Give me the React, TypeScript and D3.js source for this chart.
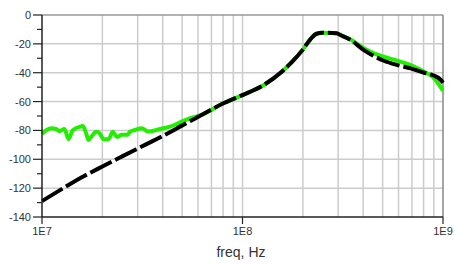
import { useMemo } from "react";
import * as d3 from "d3";

// measured response (black, dashed): frequency in Hz, level in dB
const simFreq = [1.0e7, 1.26e7, 1.58e7, 2.0e7, 2.51e7, 3.16e7, 3.98e7, 5.01e7, 6.31e7, 7.94e7, 1.0e8, 1.26e8, 1.58e8, 1.78e8, 2.0e8, 2.19e8, 2.34e8, 2.51e8, 2.95e8, 3.08e8, 3.46e8, 4.03e8, 4.52e8, 5.07e8, 5.92e8, 6.9e8, 8.04e8, 8.85e8, 9.75e8, 1.0e9];
const simDb = [-129, -120.5, -112.5, -105, -98, -91, -84, -76.5, -69, -61.5, -55.5, -49, -39, -32, -24, -16.5, -13, -12.3, -12.7, -13.9, -17.3, -24.3, -28.4, -31.7, -34.7, -37, -40, -41.6, -45, -47];

// measurement (green): noisy floor at low frequency
const measFreq = [1.0e7, 1.047e7, 1.109e7, 1.175e7, 1.222e7, 1.294e7, 1.355e7, 1.422e7, 1.538e7, 1.598e7, 1.66e7, 1.706e7, 1.77e7, 1.862e7, 1.936e7, 2.032e7, 2.148e7, 2.254e7, 2.371e7, 2.5e7, 2.679e7, 2.745e7, 2.907e7, 3.141e7, 3.388e7, 3.733e7, 4.027e7, 4.351e7, 4.882e7, 5.37e7, 6.31e7, 7.94e7, 1.0e8, 1.26e8, 1.58e8, 1.78e8, 2.0e8, 2.19e8, 2.34e8, 2.51e8, 2.95e8, 3.08e8, 3.46e8, 4.03e8, 4.52e8, 5.07e8, 5.92e8, 6.9e8, 8.04e8, 8.85e8, 9.44e8, 1.0e9];
const measDb = [-82.5, -80, -78.5, -79, -80.5, -79, -86, -80, -77.5, -77, -82, -86.6, -84, -81, -82, -86.2, -86, -81, -84.5, -83, -83, -80.8, -79.7, -78.5, -80.8, -79.7, -78.5, -77.4, -74.4, -72, -69, -61.5, -55.5, -49, -39, -32, -24, -16.5, -13, -12.3, -12.7, -13.9, -17, -23.1, -26.6, -28.9, -31.7, -34.7, -39.3, -42.7, -47.3, -52.5];

const yTicks = [0, -20, -40, -60, -80, -100, -120, -140];
const yMinorTicks = [-10, -30, -50, -70, -90, -110, -130];
const xTicks = [1e7, 1e8, 1e9];
const xTickLabels = ["1E7", "1E8", "1E9"];
const xGrid = [2e7, 3e7, 4e7, 5e7, 6e7, 7e7, 8e7, 9e7, 1e8, 2e8, 3e8, 4e8, 5e8, 6e8, 7e8, 8e8, 9e8];

const W = 454;
const H = 264;
const left = 42;
const right = 443;
const top = 15;
const bottom = 217;
const font = "'Liberation Sans', Arial, sans-serif";

export default function App() {
  const x = useMemo(() => d3.scaleLog().domain([1e7, 1e9]).range([left, right]), []);
  const y = useMemo(() => d3.scaleLinear().domain([-140, 0]).range([bottom, top]), []);

  const line = d3
    .line<[number, number]>()
    .x((d) => x(d[0]))
    .y((d) => y(d[1]))
    .curve(d3.curveMonotoneX);

  const simPath = line(simFreq.map((f, i) => [f, simDb[i]]) as [number, number][]) || "";
  const measPath = line(measFreq.map((f, i) => [f, measDb[i]]) as [number, number][]) || "";

  return (
    <svg width={W} height={H} style={{ position: "absolute", left: 0, top: 0, background: "#fff" }}>
      {/* grid */}
      {yTicks.slice(1, -1).map((t) => (
        <line key={"hy" + t} x1={left} x2={right} y1={y(t)} y2={y(t)} stroke="#cccccc" strokeWidth={1.5} />
      ))}
      {xGrid.map((f) => (
        <line key={"vx" + f} x1={x(f)} x2={x(f)} y1={top} y2={bottom} stroke="#cccccc" strokeWidth={1.5} />
      ))}
      {/* frame */}
      <line x1={left} x2={right} y1={top} y2={top} stroke="#999" strokeWidth={1.5} />
      <line x1={right} x2={right} y1={top} y2={bottom} stroke="#888" strokeWidth={1.5} />

      {/* traces */}
      <path d={measPath} fill="none" stroke="#22ee00" strokeWidth={4} strokeLinejoin="round" />
      <path d={simPath} fill="none" stroke="#000" strokeWidth={4} strokeDasharray="24 4" />

      {/* axes */}
      <line x1={left} x2={left} y1={top} y2={bottom} stroke="#222" strokeWidth={1.5} />
      <line x1={left} x2={right} y1={bottom} y2={bottom} stroke="#222" strokeWidth={1.5} />
      {yTicks.map((t) => (
        <g key={"yt" + t}>
          <line x1={left - 9} x2={left} y1={y(t)} y2={y(t)} stroke="#222" strokeWidth={1.2} />
          <text x={left - 11} y={y(t) + 4} textAnchor="end" fontFamily={font} fontSize={11} fill="#333">
            {t}
          </text>
        </g>
      ))}
      {yMinorTicks.map((t) => (
        <line key={"ym" + t} x1={left - 5} x2={left} y1={y(t)} y2={y(t)} stroke="#222" strokeWidth={1.2} />
      ))}
      {xTicks.map((f, i) => (
        <g key={"xt" + f}>
          <line x1={x(f)} x2={x(f)} y1={bottom} y2={bottom + 7} stroke="#222" strokeWidth={1.2} />
          <text x={x(f)} y={bottom + 18} textAnchor="middle" fontFamily={font} fontSize={11} fill="#333">
            {xTickLabels[i]}
          </text>
        </g>
      ))}
      <text x={241} y={257} textAnchor="middle" fontFamily={font} fontSize={14} fill="#333">
        freq, Hz
      </text>
    </svg>
  );
}
